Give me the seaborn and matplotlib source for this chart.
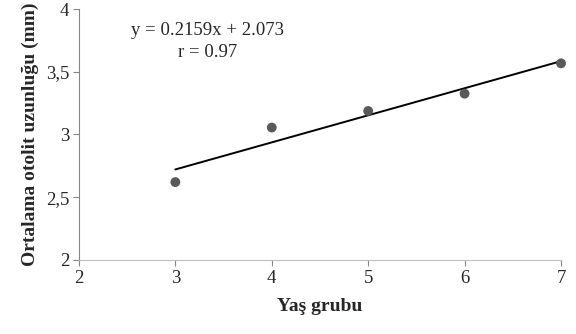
import numpy as np
import pandas as pd
import matplotlib.pyplot as plt
import seaborn as sns
from matplotlib.ticker import FuncFormatter

# data
yas = [3, 4, 5, 6, 7]
otolit = [2.62, 3.055, 3.187, 3.325, 3.567]
slope = 0.2159
intercept = 2.073
r_val = 0.97

df = pd.DataFrame({"Yaş grubu": yas, "Ortalama": otolit})

sns.set_style("white")
plt.rcParams['font.family'] = ['Liberation Serif', 'DejaVu Serif']

fig = plt.figure(figsize=(5.76, 3.34), dpi=100)
ax = fig.add_axes([0.137, 0.222, 0.837, 0.751])

sns.scatterplot(data=df, x="Yaş grubu", y="Ortalama", ax=ax,
                color="#595959", s=50, edgecolor="none", zorder=3, clip_on=False)

# trend line from the fitted equation
xl = np.array([min(yas), max(yas)])
sns.lineplot(x=xl, y=slope * xl + intercept, ax=ax, color="black",
             linewidth=1.4, zorder=2)

ax.set_xlim(2, 7)
ax.set_ylim(2, 4)
ax.set_xticks([2, 3, 4, 5, 6, 7])
ax.set_yticks([2, 2.5, 3, 3.5, 4])
ax.yaxis.set_major_formatter(FuncFormatter(lambda v, p: f"{v:g}".replace(".", ",")))

for s in ["top", "right"]:
    ax.spines[s].set_visible(False)
ax.spines["left"].set_color("#868686")
ax.spines["bottom"].set_color("#bfbfbf")
ax.tick_params(axis="both", direction="out", length=4, width=0.8,
               color="#868686", labelsize=13.5, pad=3, left=True, bottom=True)

ax.set_xlabel("Yaş grubu", fontsize=14, fontweight="bold", labelpad=8)
ax.set_ylabel("Ortalama otolit uzunluğu (mm)", fontsize=14, fontweight="bold", labelpad=5)

ax.text(3.33, 3.83, f"y = {slope}x + {intercept}", ha="center", va="center", fontsize=13.5)
ax.text(3.33, 3.655, f"r = {r_val}", ha="center", va="center", fontsize=13.5)

fig.savefig("out.png", dpi=100)
